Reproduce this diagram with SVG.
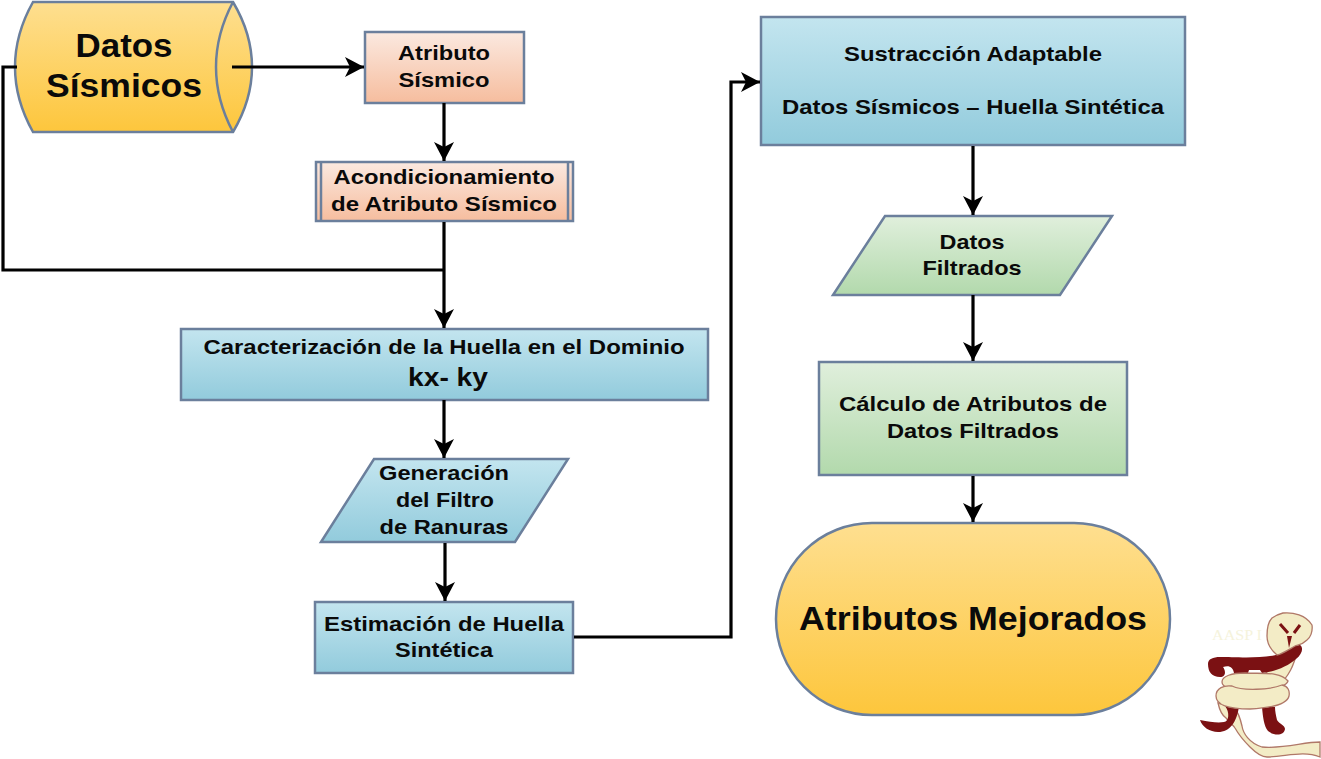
<svg xmlns="http://www.w3.org/2000/svg" width="1321" height="759" viewBox="0 0 1321 759">
<defs>
<linearGradient id="gy" x1="0" y1="0" x2="0" y2="1"><stop offset="0" stop-color="#fedf90"/><stop offset="1" stop-color="#fdc63c"/></linearGradient>
<linearGradient id="go" x1="0" y1="0" x2="0" y2="1"><stop offset="0" stop-color="#fbe9e0"/><stop offset="1" stop-color="#f6bd9e"/></linearGradient>
<linearGradient id="gb" x1="0" y1="0" x2="0" y2="1"><stop offset="0" stop-color="#c3e5ef"/><stop offset="1" stop-color="#92cbdc"/></linearGradient>
<linearGradient id="gg" x1="0" y1="0" x2="0" y2="1"><stop offset="0" stop-color="#e0efdc"/><stop offset="1" stop-color="#b2d9ac"/></linearGradient>
<marker id="ah" markerUnits="userSpaceOnUse" markerWidth="20" markerHeight="20" refX="19" refY="10" orient="auto"><path d="M0 0L19 10L0 20L5 10Z" fill="#000"/></marker>
</defs>
<style>
text{font-family:"Liberation Sans",Arial,sans-serif;font-weight:bold;fill:#0a0a0a;text-anchor:middle}
.s{stroke:#6b7f9c;stroke-width:2.5}
.t{font-size:21px}
.c{fill:none;stroke:#000;stroke-width:3.2}
.a{marker-end:url(#ah)}
.p{fill:#f3ecc6;stroke:#b07868;stroke-width:1.3}
.r{fill:#7b1113}
</style>
<rect width="1321" height="759" fill="#fff"/>
<g id="datos-sismicos">
<path class="s" fill="url(#gy)" d="M33 2H233Q252 34 252 67Q252 100 233 132H33Q15 100 15 67Q15 34 33 2Z"/>
<path class="s" fill="none" d="M233 2Q216 34 216 67Q216 100 233 132"/>
<text x="124" y="57" font-size="33" textLength="97" lengthAdjust="spacingAndGlyphs">Datos</text>
<text x="124" y="97" font-size="33" textLength="156" lengthAdjust="spacingAndGlyphs">Sísmicos</text>
</g>
<g id="atributo-sismico">
<rect class="s" x="365" y="32" width="159" height="71" fill="url(#go)"/>
<text class="t" x="444" y="60" textLength="92" lengthAdjust="spacingAndGlyphs">Atributo</text>
<text class="t" x="444" y="87" textLength="91" lengthAdjust="spacingAndGlyphs">Sísmico</text>
</g>
<g id="acondicionamiento">
<rect class="s" x="316" y="162" width="257" height="59" fill="url(#go)"/>
<path class="s" fill="none" d="M321 162V221M568 162V221"/>
<text class="t" x="444" y="184" textLength="221" lengthAdjust="spacingAndGlyphs">Acondicionamiento</text>
<text class="t" x="444" y="211" textLength="226" lengthAdjust="spacingAndGlyphs">de Atributo Sísmico</text>
</g>
<g id="caracterizacion">
<rect class="s" x="181" y="329" width="527" height="71" fill="url(#gb)"/>
<text class="t" x="444" y="354" textLength="481" lengthAdjust="spacingAndGlyphs">Caracterización de la Huella en el Dominio</text>
<text x="448" y="386" font-size="25" textLength="80" lengthAdjust="spacingAndGlyphs">kx- ky</text>
</g>
<g id="generacion">
<path class="s" fill="url(#gb)" d="M374 459H568L515 542H321Z"/>
<text class="t" x="444" y="480" textLength="130" lengthAdjust="spacingAndGlyphs">Generación</text>
<text class="t" x="445" y="507" textLength="98" lengthAdjust="spacingAndGlyphs">del Filtro</text>
<text class="t" x="444" y="534" textLength="129" lengthAdjust="spacingAndGlyphs">de Ranuras</text>
</g>
<g id="estimacion">
<rect class="s" x="315" y="602" width="258" height="71" fill="url(#gb)"/>
<text class="t" x="444" y="631" textLength="240" lengthAdjust="spacingAndGlyphs">Estimación de Huella</text>
<text class="t" x="444" y="657" textLength="98" lengthAdjust="spacingAndGlyphs">Sintética</text>
</g>
<g id="sustraccion">
<rect class="s" x="761" y="17" width="424" height="128" fill="url(#gb)"/>
<text class="t" x="973" y="61" textLength="258" lengthAdjust="spacingAndGlyphs">Sustracción Adaptable</text>
<text class="t" x="973" y="114" textLength="382" lengthAdjust="spacingAndGlyphs">Datos Sísmicos – Huella Sintética</text>
</g>
<g id="datos-filtrados">
<path class="s" fill="url(#gg)" d="M885 216H1112L1060 295H833Z"/>
<text class="t" x="972" y="249" textLength="65" lengthAdjust="spacingAndGlyphs">Datos</text>
<text class="t" x="972" y="275" textLength="99" lengthAdjust="spacingAndGlyphs">Filtrados</text>
</g>
<g id="calculo">
<rect class="s" x="819" y="362" width="308" height="113" fill="url(#gg)"/>
<text class="t" x="973" y="411" textLength="268" lengthAdjust="spacingAndGlyphs">Cálculo de Atributos de</text>
<text class="t" x="973" y="438" textLength="172" lengthAdjust="spacingAndGlyphs">Datos Filtrados</text>
</g>
<g id="atributos-mejorados">
<rect class="s" x="776" y="523" width="394" height="192" rx="96" fill="url(#gy)"/>
<text x="973" y="630" font-size="33" textLength="348" lengthAdjust="spacingAndGlyphs">Atributos Mejorados</text>
</g>
<g id="connectors">
<path class="c" d="M17 67H3V270H444"/>
<path class="c a" d="M232 67H364"/>
<path class="c a" d="M444 103V161"/>
<path class="c a" d="M444 222V328"/>
<path class="c a" d="M444 400V458"/>
<path class="c a" d="M445 543V601"/>
<path class="c a" d="M574 637H731V82H760"/>
<path class="c a" d="M973 146V215"/>
<path class="c a" d="M973 295V361"/>
<path class="c a" d="M973 476V522"/>
</g>
<g id="logo">
<text x="1237" y="640" font-size="15" textLength="50" lengthAdjust="spacingAndGlyphs" style="font-family:'Liberation Serif',serif;font-weight:normal;fill:#f5f3dc">AASP I</text>
<path class="p" d="M1218 703C1220 712 1223 716 1226 718C1231 724 1234 726 1235 728C1240 737 1246 743 1250 747C1256 753 1261 757 1267 757C1285 757 1303 750 1320 757V742C1303 742 1285 749 1262 747C1249 743 1243 733 1242 726C1240 717 1238 712 1234 707Z"/>
<path class="r" d="M1225 706C1230 712 1229 722 1224 722C1218 723 1210 722 1200 720C1202 727 1210 732 1218 732C1230 732 1237 722 1239 706Z"/>
<path class="r" d="M1262 707C1263 718 1264 726 1268 731C1274 736 1284 736 1285 729C1285 725 1279 724 1277 720C1276 716 1275 711 1275 707Z"/>
<path class="p" d="M1277 654C1283 658 1290 655 1297 652C1294 664 1290 676 1276 688L1258 680C1268 672 1276 664 1277 654Z"/>
<path class="r" d="M1208 664C1208 672 1212 677 1220 677C1226 677 1226 671 1223 667C1229 665 1233 667 1234 673H1248L1249 670H1260L1262 673C1275 672 1288 666 1296 659C1302 654 1304 648 1300 645C1294 645 1288 650 1279 654C1265 659 1235 657 1220 657C1213 657 1208 659 1208 664Z"/>
<path class="p" d="M1222 682C1222 676 1232 673 1245 673C1262 674 1280 671 1288 681C1286 688 1268 690 1248 690C1232 690 1222 688 1222 682Z"/>
<path class="p" d="M1216 696C1216 688 1224 685 1232 686C1242 691 1270 690 1282 685C1288 686 1290 691 1289 696C1287 705 1270 708 1250 709C1230 709 1216 706 1216 696Z"/>
<path class="p" d="M1283 613C1293 612 1306 615 1312 625C1313 632 1310 638 1307 640C1302 645 1298 645 1295 646C1288 650 1282 654 1277 655C1271 650 1267 644 1267 636C1267 628 1268 622 1272 618C1276 615 1279 614 1283 613Z"/>
<path d="M1280 624L1288 633M1300 625L1294 633" stroke="#7b1113" stroke-width="3" fill="none"/>
<path class="r" d="M1287 636L1289 648L1292 636Z"/>
</g>
</svg>
